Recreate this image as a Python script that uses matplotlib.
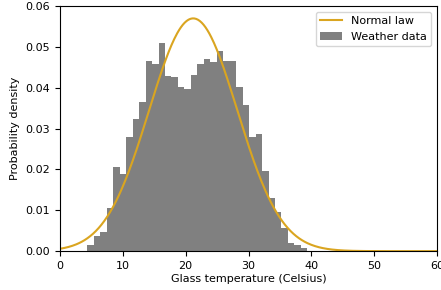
import numpy as np
from matplotlib import pyplot as plt

# histogram of the weather data (density per bin)
bin_start = 4.35
bin_width = 1.03
densities = [0.0015, 0.0037, 0.0046, 0.0105, 0.0205, 0.0190, 0.0279, 0.0323,
             0.0364, 0.0465, 0.0458, 0.0509, 0.0429, 0.0426, 0.0401, 0.0396,
             0.0431, 0.0458, 0.0470, 0.0463, 0.0490, 0.0465, 0.0466, 0.0401,
             0.0359, 0.0280, 0.0287, 0.0196, 0.0129, 0.0096, 0.0057, 0.0021,
             0.0015, 0.0007]

# fitted normal law
mu = 21.2
sigma = 7.0

x_ticks = [0, 10, 20, 30, 40, 50, 60]
y_ticks = [0.00, 0.01, 0.02, 0.03, 0.04, 0.05, 0.06]

fig = plt.figure(figsize=(4.41, 2.90), dpi=100)
ax = fig.add_axes((0.136, 0.134, 0.855, 0.845))

edges = bin_start + bin_width * np.arange(len(densities))
ax.bar(edges, densities, width=bin_width, align='edge', color='gray',
       label='Weather data')

x = np.linspace(0, 60, 400)
pdf = np.exp(-(x - mu) ** 2 / (2 * sigma ** 2)) / (sigma * np.sqrt(2 * np.pi))
ax.plot(x, pdf, color='goldenrod', lw=1.5, label='Normal law')

ax.set_xlim(0, 60)
ax.set_ylim(0, 0.06)
ax.set_xticks(x_ticks)
ax.set_yticks(y_ticks)
ax.set_yticklabels(['%.2f' % v for v in y_ticks])
ax.tick_params(labelsize=8)
ax.set_xlabel('Glass temperature (Celsius)', fontsize=8, labelpad=2)
ax.set_ylabel('Probability density', fontsize=8)

ax.legend(loc='upper right', fontsize=8)

fig.savefig('out.png', dpi=100)
